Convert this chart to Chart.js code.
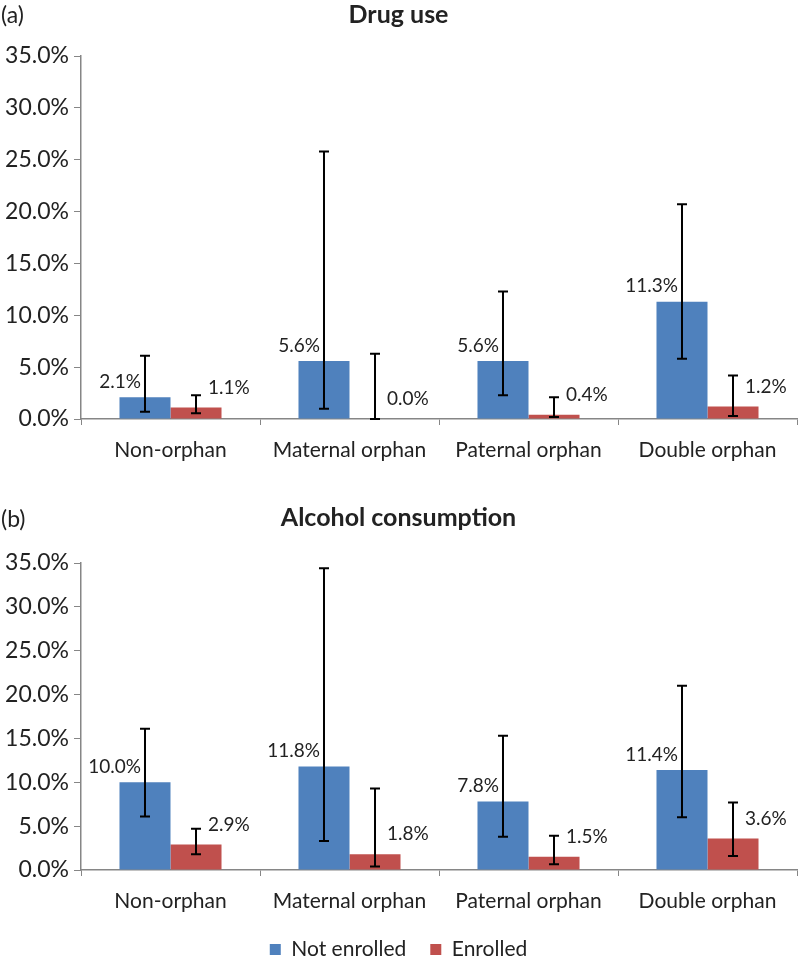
<!DOCTYPE html>
<html>
<head>
<meta charset="utf-8">
<script src="https://cdn.jsdelivr.net/npm/chart.js@4.4.0/dist/chart.umd.min.js"></script>
<style>
    html, body { margin: 0; padding: 0; background: #fff; }
    body { width: 800px; height: 959px; position: relative; overflow: hidden; font-family: Lato, sans-serif; }
    .panel { position: absolute; left: 0; width: 800px; }
    .tag { position: absolute; left: 1px; font-size: 23px; color: #222; font-family: Lato, sans-serif; }
</style>
</head>
<body>
<div class="panel" style="top:0; height:464px;"><canvas id="drugChart"></canvas></div>
<div class="panel" style="top:480px; height:490px;"><canvas id="alcChart"></canvas></div>
<div class="tag" style="top:0px;">(a)</div>
<div class="tag" style="top:504px;">(b)</div>
<script>
// Orphan status vs school enrollment: drug use / alcohol consumption (%)

const categories = ["Non-orphan", "Maternal orphan", "Paternal orphan", "Double orphan"];
const seriesNames = ["Not enrolled", "Enrolled"];

const drugNotEnrolled = [2.1, 5.6, 5.6, 11.3];
const drugNotEnrolledLow = [0.7, 1.0, 2.3, 5.8];
const drugNotEnrolledHigh = [6.1, 25.8, 12.3, 20.7];
const drugEnrolled = [1.1, 0.0, 0.4, 1.2];
const drugEnrolledLow = [0.55, 0.0, 0.2, 0.3];
const drugEnrolledHigh = [2.3, 6.3, 2.1, 4.2];

const alcNotEnrolled = [10.0, 11.8, 7.8, 11.4];
const alcNotEnrolledLow = [6.1, 3.3, 3.8, 6.0];
const alcNotEnrolledHigh = [16.1, 34.4, 15.3, 21.0];
const alcEnrolled = [2.9, 1.8, 1.5, 3.6];
const alcEnrolledLow = [1.8, 0.4, 0.65, 1.6];
const alcEnrolledHigh = [4.7, 9.3, 3.9, 7.7];

const yTicks = [0, 5, 10, 15, 20, 25, 30, 35];

const BLUE = "#4F81BD";
const RED = "#C0504D";
const AXIS = "#868686";
const TEXT = "#222";

// error bars + value labels, drawn through the chart's own scales
const errorBarPlugin = {
    id: "errorBars",
    afterDatasetsDraw(chart) {
        const ctx = chart.ctx;
        const yScale = chart.scales.y;
        ctx.save();
        chart.data.datasets.forEach((ds, i) => {
            const meta = chart.getDatasetMeta(i);
            meta.data.forEach((bar, j) => {
                const x = bar.x;
                const yLo = yScale.getPixelForValue(ds.errLow[j]);
                const yHi = yScale.getPixelForValue(ds.errHigh[j]);
                ctx.strokeStyle = "#000";
                ctx.lineWidth = 2;
                ctx.beginPath();
                ctx.moveTo(x, yLo); ctx.lineTo(x, yHi);
                ctx.moveTo(x - 5, yLo); ctx.lineTo(x + 5, yLo);
                ctx.moveTo(x - 5, yHi); ctx.lineTo(x + 5, yHi);
                ctx.stroke();

                // value label
                ctx.fillStyle = TEXT;
                ctx.font = "19px Lato, sans-serif";
                const label = ds.data[j].toFixed(1) + "%";
                if (i === 0) {
                    ctx.textAlign = "right";
                    ctx.textBaseline = "bottom";
                    ctx.fillText(label, x - 4, bar.y - 6);
                } else {
                    ctx.textAlign = "left";
                    ctx.textBaseline = "middle";
                    ctx.fillText(label, x + 12, bar.y - 20);
                }
            });
        });
        ctx.restore();
    },
};

function makeChart(canvasId, title, notEnr, notLo, notHi, enr, enrLo, enrHi, opts) {
    const ctx = document.getElementById(canvasId).getContext("2d");
    return new Chart(ctx, {
        type: "bar",
        data: {
            labels: categories,
            datasets: [
                { label: seriesNames[0], data: notEnr, errLow: notLo, errHigh: notHi, backgroundColor: BLUE },
                { label: seriesNames[1], data: enr, errLow: enrLo, errHigh: enrHi, backgroundColor: RED },
            ],
        },
        options: {
            responsive: true,
            maintainAspectRatio: false,
            animation: false,
            categoryPercentage: 0.57,
            barPercentage: 1.0,
            layout: { padding: { left: 0, right: 3, top: 0, bottom: 0 } },
            plugins: {
                title: {
                    display: true,
                    text: title,
                    color: TEXT,
                    font: { family: "Lato, sans-serif", size: 25, weight: "bold" },
                    padding: opts.titlePadding,
                },
                legend: {
                    display: opts.legend,
                    position: "bottom",
                    labels: {
                        color: TEXT,
                        boxWidth: 11,
                        boxHeight: 11,
                        padding: 24,
                        font: { family: "Lato, sans-serif", size: 21 },
                    },
                },
                tooltip: { enabled: false },
            },
            scales: {
                x: {
                    border: { color: AXIS, width: 1.5 },
                    grid: { offset: true, drawOnChartArea: false, color: AXIS, tickLength: 6 },
                    ticks: { color: TEXT, padding: 13, font: { family: "Lato, sans-serif", size: 21 } },
                    afterFit(scale) { scale.height = opts.xHeight; },
                },
                y: {
                    min: 0,
                    max: 35,
                    border: { color: AXIS, width: 1.5 },
                    grid: { drawOnChartArea: false, color: AXIS, tickLength: 7 },
                    afterBuildTicks(scale) { scale.ticks = yTicks.map(v => ({ value: v })); },
                    ticks: {
                        color: TEXT,
                        padding: 5,
                        font: { family: "Lato, sans-serif", size: 23 },
                        callback: v => v.toFixed(1) + "%",
                    },
                    afterFit(scale) { scale.width = 81; },
                },
            },
        },
        plugins: [errorBarPlugin],
    });
}

makeChart("drugChart", "Drug use",
    drugNotEnrolled, drugNotEnrolledLow, drugNotEnrolledHigh,
    drugEnrolled, drugEnrolledLow, drugEnrolledHigh,
    { titlePadding: { top: 0, bottom: 26 }, legend: false, xHeight: 45 });

makeChart("alcChart", "Alcohol consumption",
    alcNotEnrolled, alcNotEnrolledLow, alcNotEnrolledHigh,
    alcEnrolled, alcEnrolledLow, alcEnrolledHigh,
    { titlePadding: { top: 23, bottom: 30 }, legend: true, xHeight: 45 });
</script>
</body>
</html>
